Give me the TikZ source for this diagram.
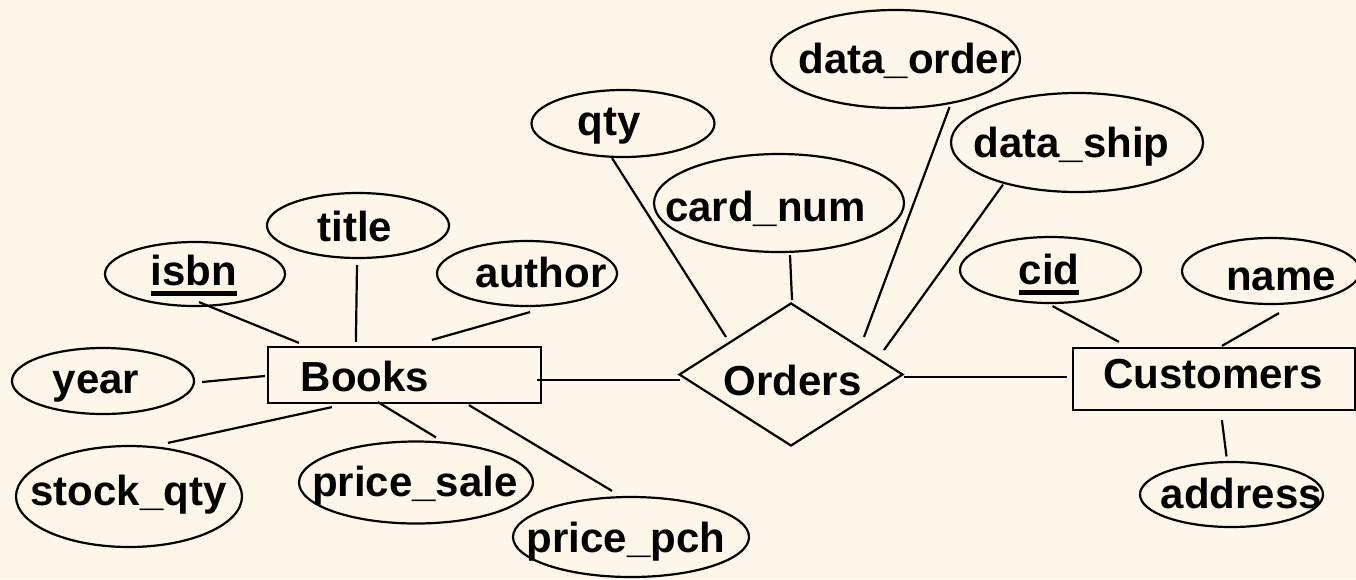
\documentclass[tikz,border=0pt]{standalone}
\usepackage{fontspec}
\setmainfont{Liberation Sans}
\usetikzlibrary{shapes.geometric,calc}
\definecolor{paper}{RGB}{255,246,234}
% key attribute: thick underline under the name
\newcommand\keyattr[1]{\setbox0\hbox{#1}\rlap{\rule[-0.26em]{\wd0}{0.12em}}\box0}
\begin{document}
\begin{tikzpicture}[x=1pt,y=-1pt,
  attr/.style={ellipse,draw,line width=2.2pt,inner sep=0pt},
  entity/.style={rectangle,draw,line width=2.2pt,inner sep=0pt},
  relation/.style={diamond,draw,line width=2.2pt,inner sep=0pt},
  lbl/.style={font=\fontsize{42}{50}\selectfont\bfseries,inner sep=0pt,anchor=base},
  link/.style={line width=2.2pt}]
\fill[paper] (0,0) rectangle (1356,579);
\useasboundingbox (0,0) rectangle (1356,579);

% entities and relationship
\node[entity,minimum width=273,minimum height=56] (books) at (404.5,375) {};
\node[entity,minimum width=282,minimum height=62] (cust) at (1214,379) {};
\node[relation,minimum width=224,minimum height=143] (orders) at (791,374.5) {};

% attributes of Books
\node[attr,minimum width=180,minimum height=64] (isbn) at (195,274) {};
\node[attr,minimum width=182,minimum height=65] (title) at (358,225.5) {};
\node[attr,minimum width=180,minimum height=65] (author) at (527,273.5) {};
\node[attr,minimum width=182,minimum height=66] (year) at (103,381) {};
\node[attr,minimum width=226,minimum height=101] (stock) at (129,496.5) {};
\node[attr,minimum width=234,minimum height=82] (psale) at (416,482.5) {};
\node[attr,minimum width=236,minimum height=80] (ppch) at (631,537) {};

% attributes of Orders
\node[attr,minimum width=183,minimum height=67] (qty) at (623,123.5) {};
\node[attr,minimum width=250,minimum height=98] (card) at (779,203) {};
\node[attr,minimum width=249,minimum height=98] (dorder) at (895.5,59) {};
\node[attr,minimum width=252,minimum height=99] (dship) at (1077,142.5) {};

% attributes of Customers
\node[attr,minimum width=181,minimum height=66] (cid) at (1050.5,270) {};
\node[attr,minimum width=178,minimum height=66] (name) at (1271,271) {};
\node[attr,minimum width=183,minimum height=65] (address) at (1231.5,494.5) {};

% labels
\node[lbl] (tbooks) at (365,391) {Books};
\node[lbl] (tcust) at (1213,388) {Customers};
\node[lbl] (torders) at (792.5,395) {Orders};
\node[lbl] (tisbn) at (194,285) {\keyattr{isbn}};
\node[lbl] (ttitle) at (355,241) {title};
\node[lbl] (tauthor) at (541,287) {author};
\node[lbl] (tyear) at (96,393) {year};
\node[lbl] (tstock) at (128.5,505) {stock\_qty};
\node[lbl] (tpsale) at (415,496) {price\_sale};
\node[lbl] (tppch) at (626,552) {price\_pch};
\node[lbl] (tqty) at (609,135) {qty};
\node[lbl] (tcard) at (765.5,221) {card\_num};
\node[lbl] (tdorder) at (907,73) {data\_order};
\node[lbl] (tdship) at (1071.5,157) {data\_ship};
\node[lbl] (tcid) at (1049,284) {\keyattr{cid}};
\node[lbl] (tname) at (1281,290) {name};
\node[lbl] (taddress) at (1241.5,508) {address};

% connectors around Books
\draw[link] ($(isbn.south)+(4,-5)$) -- ($(books.north west)+(32,-3)$);
\draw[link] ($(title.south)+(-1,6)$) -- ($(books.north west)+(89,-4)$);
\draw[link] ($(author.south)+(3,5)$) -- ($(books.north west)+(165,-6)$);
\draw[link] ($(year.east)+(7,1)$) -- ($(books.west)+(-2,1)$);
\draw[link] ($(stock.north)+(39,-2)$) -- ($(books.south west)+(65,3)$);
\draw[link] ($(books.south west)+(111,-2)$) -- ($(psale.north)+(20,-3)$);
\draw[link] ($(books.south west)+(202,1)$) -- ($(ppch.north)+(-19,-5)$);
\draw[link] ($(books.east)+(-5,5)$) -- ($(orders.west)+(2,5.5)$);

% connectors around Orders
\draw[link] ($(qty.south)+(-11,0)$) -- ($(orders.center)+(-65,-37.5)$);
\draw[link] ($(card.south)+(11,2)$) -- ($(orders.north)+(1,-2)$);
\draw[link] ($(dorder.south)+(54,-2)$) -- ($(orders.center)+(73,-37.5)$);
\draw[link] ($(dship.south)+(-74,-8.5)$) -- ($(orders.center)+(93,-24.5)$);
\draw[link] ($(orders.east)+(0,2.5)$) -- ($(cust.west)+(-5,-2)$);

% connectors around Customers
\draw[link] ($(cid.south)+(2,2)$) -- ($(cust.north west)+(47,-5)$);
\draw[link] ($(name.south)+(8,8)$) -- ($(cust.north west)+(150,-1)$);
\draw[link] ($(cust.south west)+(150,9)$) -- ($(address.north)+(-5,-4.5)$);
\end{tikzpicture}
\end{document}
